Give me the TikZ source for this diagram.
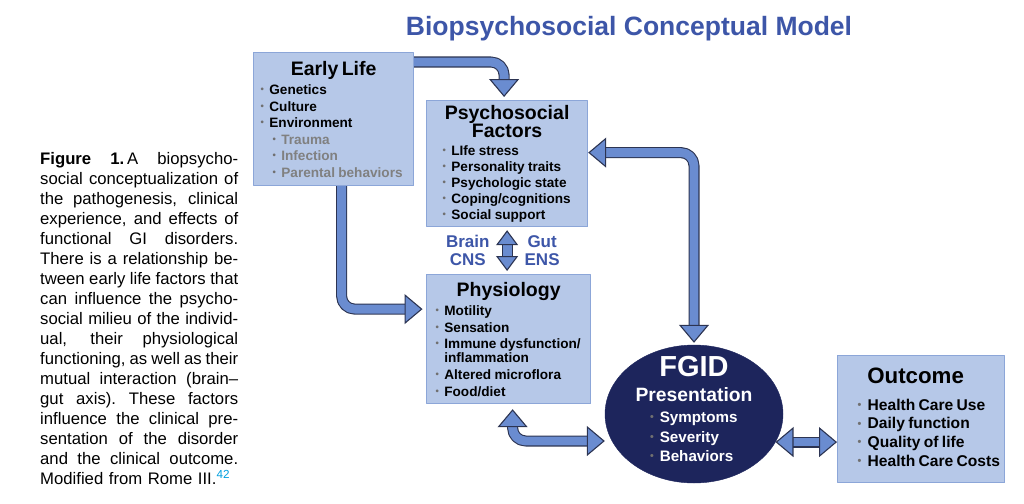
\documentclass[tikz,border=0pt]{standalone}
\usepackage{fontspec}
\setmainfont{Liberation Sans}
\usepackage{graphicx}
\usetikzlibrary{arrows.meta,positioning,shapes.geometric}

\definecolor{titleblue}{RGB}{61,86,168}
\definecolor{boxfill}{RGB}{182,200,232}
\definecolor{boxedge}{RGB}{140,166,216}
\definecolor{flowfill}{RGB}{106,140,208}
\definecolor{flowedge}{RGB}{44,52,82}
\definecolor{fgidfill}{RGB}{29,37,92}
\definecolor{subgray}{RGB}{128,128,128}
\definecolor{dotgray}{RGB}{112,112,112}
\definecolor{refcyan}{RGB}{0,158,222}

\lineskiplimit=-30pt
\newcommand\headfont[1]{\fontsize{19.5}{#1}\selectfont}
\newcommand\itemfont[1]{\fontsize{13.6}{#1}\selectfont}
\newcommand\dotmark{{\color{dotgray}\raisebox{0.12em}{\scalebox{0.7}{•}}}\hspace{0.4em}}
\newcommand\dotitem[1]{\mbox{\dotmark#1}}
\newcommand\dotcont[1]{\mbox{\phantom{\dotmark}#1}}
\newcommand\dotsub[1]{\mbox{\hspace*{12pt}\color{subgray}\dotmark#1}}
\newcommand\capline[1]{\makebox[198pt][s]{\spaceskip=.278em plus 1em minus .1em
  \xspaceskip=\spaceskip#1}}

\begin{document}
\begin{tikzpicture}[
  x=1pt,
  y=-1pt,
  line join=round,
  infobox/.style={draw=boxedge,fill=boxfill,line width=1.2pt,anchor=north west,
    align=left,inner ysep=0pt,font=\bfseries},
  fgidnode/.style={ellipse,fill=fgidfill,draw=fgidfill,text=white,align=center,
    text width=118pt,inner sep=-10pt,minimum width=178pt,minimum height=138pt,
    font=\bfseries},
  flow/.style={draw=flowedge,line width=1.1pt,double=flowfill,
    double distance=8.8pt,rounded corners=13pt},
  gutlabel/.style={text=titleblue,font=\bfseries\fontsize{17}{18}\selectfont,
    align=center,inner sep=0pt},
  caption/.style={anchor=north west,text width=198pt,align=left,inner sep=0pt,
    font=\fontsize{16.7}{20}\selectfont},
  >={Triangle[width=30pt,length=18pt,fill=flowfill]}
]
  \useasboundingbox (0,0) rectangle (1024,503);

  % heading and caption
  \node[text=titleblue,font=\bfseries\fontsize{26.5}{30}\selectfont]
    (title) at (629,29) {Biopsychosocial Conceptual Model};
  \node[caption] (caption) at (40,152) {%
    \capline{\textbf{Figure 1.}\kern3pt A biopsycho-}\\
    \capline{social conceptualization of}\\
    \capline{the pathogenesis, clinical}\\
    \capline{experience, and effects of}\\
    \capline{functional GI disorders.}\\
    \capline{There is a relationship be-}\\
    \capline{tween early life factors that}\\
    \capline{can influence the psycho-}\\
    \capline{social milieu of the individ-}\\
    \capline{ual, their physiological}\\
    \capline{functioning, as well as their}\\
    \capline{mutual interaction (brain--}\\
    \capline{gut axis). These factors}\\
    \capline{influence the clinical pre-}\\
    \capline{sentation of the disorder}\\
    \capline{and the clinical outcome.}\\
    Modified from Rome III.\textsuperscript{\color{refcyan}42}\par};

  % boxes
  \node[infobox,text width=146pt,inner xsep=7pt,minimum height=133pt]
    (early) at (253,52) {%
    \headfont{20}\makebox[\linewidth]{Early Life}\\
    \itemfont{19.5}\dotitem{Genetics}\\
    \itemfont{16.5}\dotitem{Culture}\\
    \dotitem{Environment}\\
    \dotsub{Trauma}\\
    \dotsub{Infection}\\
    \dotsub{Parental behaviors}\par};
  \node[infobox,text width=129pt,inner xsep=16pt,minimum height=126pt]
    (psych) at (426,100) {%
    \headfont{17}\makebox[\linewidth]{Psychosocial}\\
    \makebox[\linewidth]{Factors}\\
    \itemfont{17.7}\dotitem{LIfe stress}\\
    \itemfont{16}\dotitem{Personality traits}\\
    \dotitem{Psychologic state}\\
    \dotitem{Coping/cognitions}\\
    \dotitem{Social support}\par};
  \node[infobox,text width=146pt,inner xsep=9pt,minimum height=129pt]
    (physio) at (426,274) {%
    \headfont{20}\makebox[\linewidth]{Physiology}\\
    \itemfont{19}\dotitem{Motility}\\
    \itemfont{17.3}\dotitem{Sensation}\\
    \itemfont{16}\dotitem{Immune dysfunction/}\\
    \itemfont{14}\dotcont{inflammation}\\
    \itemfont{17}\dotitem{Altered microflora}\\
    \itemfont{16.7}\dotitem{Food/diet}\par};
  \node[infobox,text width=127pt,inner xsep=20pt,minimum height=127pt]
    (outcome) at (837,355) {%
    \fontsize{22.3}{20}\selectfont\makebox[\linewidth]{Outcome\hspace{11pt}}\\
    \fontsize{15.6}{26.7}\selectfont\dotitem{Health Care Use}\\
    \fontsize{15.6}{18.7}\selectfont\dotitem{Daily function}\\
    \dotitem{Quality of life}\\
    \dotitem{Health Care Costs}\rule[-4pt]{0pt}{4pt}\par};
  \node[fgidnode] (fgid) at (694,414) {%
    \fontsize{29}{30}\selectfont FGID\\
    \fontsize{19.3}{25}\selectfont Presentation\\
    \fontsize{15.2}{21}\selectfont\makebox[88pt][l]{\dotmark Symptoms}\\
    \fontsize{15.2}{19.5}\selectfont\makebox[88pt][l]{\dotmark Severity}\\
    \makebox[88pt][l]{\dotmark Behaviors}\rule[-10pt]{0pt}{10pt}\par};

  % connectors
  \draw[flow,->,shorten >=3pt] ([yshift=-10pt]early.north east)
    -| ([xshift=-3pt]psych.north);
  \draw[flow,->,shorten >=3.5pt] ([xshift=8pt]early.south)
    |- ([yshift=30pt]physio.west);
  \draw[flow,<->,shorten >=2pt] ([yshift=11pt]psych.east) -| (fgid.north);
  \draw[flow,>={Triangle[width=22pt,length=15pt,fill=flowfill]},<->,
    shorten <=3pt,shorten >=3pt] (psych.south)
    -- (psych.south |- physio.north)
    node[gutlabel,pos=0.5,left=17pt] {Brain\\CNS}
    node[gutlabel,pos=0.5,right=17pt] {Gut\\ENS};
  \draw[flow,<->,shorten <=5pt] ([xshift=4pt]physio.south)
    |- ([yshift=-27pt]fgid.west);
  \draw[flow,<->] (fgid.-19) -- (fgid.-19 -| outcome.west);
\end{tikzpicture}
\end{document}
